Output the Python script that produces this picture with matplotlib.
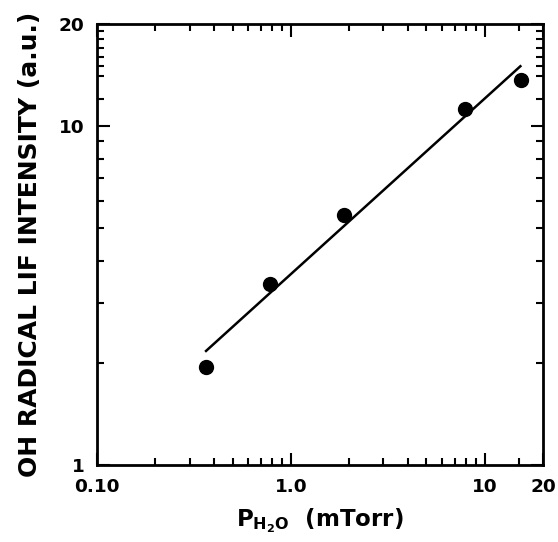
import matplotlib
matplotlib.use("Agg")
import matplotlib.pyplot as plt
from matplotlib.ticker import FixedLocator, FixedFormatter, NullFormatter

# measured points
pressure = [0.364, 0.78, 1.87, 7.9, 15.4]
intensity = [1.94, 3.43, 5.48, 11.2, 13.7]

# fitted line end points
fit_x = [0.365, 15.3]
fit_y = [2.17, 15.0]

x_ticks = [0.1, 1.0, 10, 20]
x_labels = ["0.10", "1.0", "10", "20"]
x_minor = [0.2, 0.3, 0.4, 0.5, 0.6, 0.7, 0.8, 0.9,
           2, 3, 4, 5, 6, 7, 8, 9, 15]
y_ticks = [1, 10, 20]
y_labels = ["1", "10", "20"]
y_minor = [2, 3, 4, 5, 6, 7, 8, 9, 12, 14, 15, 16, 17, 18, 19]

plt.rcParams['font.family'] = ['DejaVu Sans']
plt.rcParams['font.weight'] = 'bold'
plt.rcParams['mathtext.fontset'] = 'custom'
plt.rcParams['mathtext.rm'] = 'DejaVu Sans:bold'
plt.rcParams['mathtext.it'] = 'DejaVu Sans:bold'
plt.rcParams['mathtext.bf'] = 'DejaVu Sans:bold'

fig = plt.figure(figsize=(5.58, 5.42), dpi=100)
ax = fig.add_axes([0.174, 0.142, 0.799, 0.814])

ax.plot(fit_x, fit_y, color='black', linewidth=1.8)
ax.plot(pressure, intensity, 'o', color='black', markersize=10)

ax.set_xscale('log')
ax.set_yscale('log')
ax.set_xlim(0.1, 20)
ax.set_ylim(1, 20)

ax.xaxis.set_major_locator(FixedLocator(x_ticks))
ax.xaxis.set_major_formatter(FixedFormatter(x_labels))
ax.yaxis.set_major_locator(FixedLocator(y_ticks))
ax.yaxis.set_major_formatter(FixedFormatter(y_labels))
ax.xaxis.set_minor_locator(FixedLocator(x_minor))
ax.yaxis.set_minor_locator(FixedLocator(y_minor))
ax.xaxis.set_minor_formatter(NullFormatter())
ax.yaxis.set_minor_formatter(NullFormatter())

ax.tick_params(which='both', direction='in', top=True, right=True, width=1.5)
ax.tick_params(which='major', length=9, labelsize=13.3, pad=9)
ax.tick_params(which='minor', length=5)
for s in ax.spines.values():
    s.set_linewidth(2)

ax.set_xlabel(r'P$_{\mathregular{H_2O}}$  (mTorr)', fontsize=16.5, fontweight='bold', labelpad=8)
ax.set_ylabel('OH RADICAL LIF INTENSITY (a.u.)', fontsize=18, fontweight='bold', labelpad=12)

fig.savefig('out.png', dpi=100)
